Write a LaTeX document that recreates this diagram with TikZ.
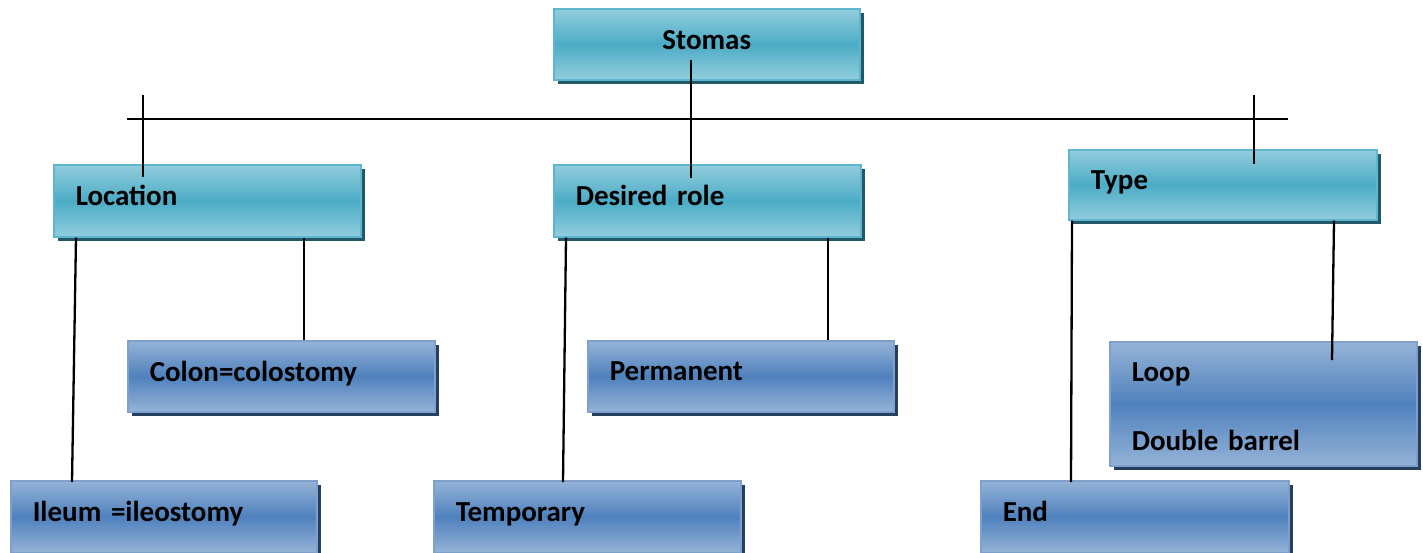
\documentclass[tikz,border=0pt]{standalone}
\usepackage{fontspec}
\setmainfont{Carlito}
\usetikzlibrary{shadows}
\definecolor{tealLight}{HTML}{93CDDD}
\definecolor{tealMid}{HTML}{4BACC6}
\definecolor{tealEdge}{HTML}{5DB6CE}
\definecolor{tealShadow}{HTML}{215968}
\definecolor{blueLight}{HTML}{95B3D7}
\definecolor{blueMid}{HTML}{4F81BD}
\definecolor{blueEdge}{HTML}{7EA0CB}
\definecolor{blueShadow}{HTML}{243F60}
\tikzset{
  basebox/.style={rectangle, anchor=north west, inner xsep=22pt, inner ysep=0pt,
    line width=1.5pt, font=\fontsize{29}{35}\selectfont\bfseries, align=left},
  tealbox/.style={basebox, draw=tealEdge, top color=tealLight, bottom color=tealLight,
    middle color=tealMid,
    drop shadow={shadow xshift=4pt, shadow yshift=-4pt, fill=tealShadow, opacity=1}},
  bluebox/.style={basebox, draw=blueEdge, top color=blueLight, bottom color=blueLight,
    middle color=blueMid,
    drop shadow={shadow xshift=4pt, shadow yshift=-4pt, fill=blueShadow, opacity=1}},
  link/.style={draw=black, line width=2.3pt}
}
\begin{document}
\begin{tikzpicture}[x=1pt,y=-1pt]
\useasboundingbox (0,0) rectangle (1423,552);
% top level
\node[tealbox, text width=262pt, minimum height=71pt, text depth=9pt, align=center]
  (stomas) at (553,8) {Stomas};
% second level
\node[tealbox, text width=263pt, minimum height=72pt, text depth=10pt] (loc) at (53,164) {Location};
\node[tealbox, text width=263pt, minimum height=72pt, text depth=10pt] (role) at (553,164) {Desired role};
\node[tealbox, text width=264pt, minimum height=70pt, text depth=10pt] (type) at (1068,149) {Type};
% third level
\node[bluebox, text width=263pt, minimum height=71pt, text depth=10pt] (colon) at (127,340) {Colon=colostomy};
\node[bluebox, text width=262pt, minimum height=71pt, text depth=10pt] (perm) at (587,340) {Permanent};
\node[bluebox, text width=263pt, minimum height=124pt, text depth=63pt] (loop) at (1109,341) {Loop\\[34pt]Double barrel};
\node[bluebox, text width=262pt, minimum height=72pt, text depth=10pt] (ileum) at (10,480) {Ileum =ileostomy};
\node[bluebox, text width=263pt, minimum height=72pt, text depth=10pt] (temp) at (433,480) {Temporary};
\node[bluebox, text width=264pt, minimum height=72pt, text depth=10pt] (end) at (980,480) {End};
% crossbar and its ticks
\coordinate (barL) at (127,119);
\coordinate (barR) at (1288,119);
\coordinate (tickL) at (143,95);
\coordinate (tickR) at (1254,95);
\draw[link] (barL) -- (barR);
\draw[link] (tickL) -- ([xshift=90pt,yshift=-13pt]loc.north west);
\draw[link] (tickR) -- ([xshift=186pt,yshift=-15pt]type.north west);
\draw[link] ([xshift=138pt,yshift=21pt]stomas.south west) -- ([xshift=138pt,yshift=-14pt]role.north west);
% location branches
\draw[link] ([xshift=23pt]loc.south west) -- ([xshift=62pt,yshift=-2pt]ileum.north west);
\draw[link] ([xshift=251pt]loc.south west) -- ([xshift=177pt]colon.north west);
% desired role branches
\draw[link] ([xshift=13pt]role.south west) -- ([xshift=130pt,yshift=-2pt]temp.north west);
\draw[link] ([xshift=275pt]role.south west) -- ([xshift=241pt]perm.north west);
% type branches
\draw[link] ([xshift=4pt]type.south west) -- ([xshift=91pt,yshift=-2pt]end.north west);
\draw[link] ([xshift=266pt]type.south west) -- ([xshift=223pt,yshift=-19pt]loop.north west);
\end{tikzpicture}
\end{document}
